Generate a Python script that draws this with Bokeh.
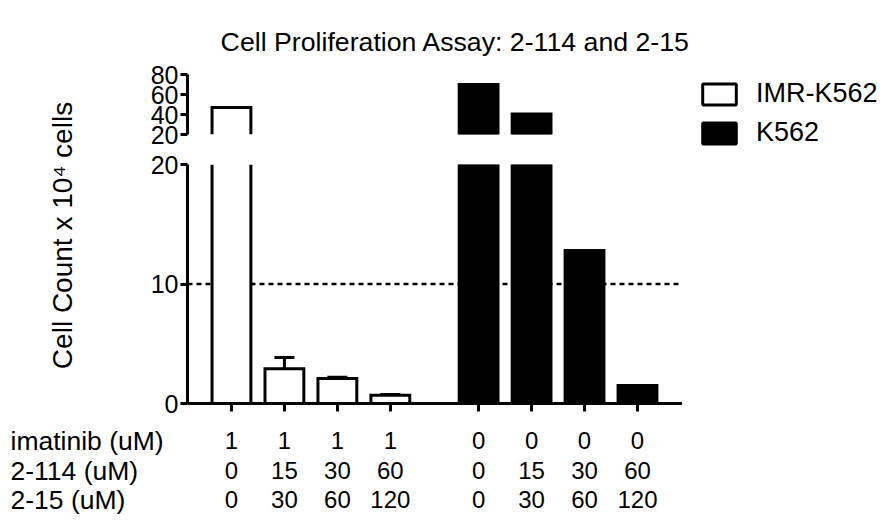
import math
from bokeh.plotting import figure
from bokeh.models import (Range1d, Span, Label, Legend, LegendItem, Whisker,
                          ColumnDataSource, TeeHead, FixedTicker, AllLabels)
from bokeh.layouts import column, row
from bokeh.embed import file_html
from bokeh.resources import INLINE
from bokeh.core.properties import value

# ---------------- data ----------------
series = ["IMR-K562", "K562"]
imatinib_uM = ["1", "1", "1", "1", "0", "0", "0", "0"]
cmpd_2_114_uM = ["0", "15", "30", "60", "0", "15", "30", "60"]
cmpd_2_15_uM = ["0", "30", "60", "120", "0", "30", "60", "120"]
imr_k562 = [47, 2.9, 2.1, 0.7]
imr_k562_err = [0, 0.95, 0.1, 0.05]
k562 = [70, 40.5, 12.8, 1.5]
threshold = 10
lower_ticks = [0, 10, 20]
upper_ticks = [20, 40, 60, 80]
row_labels = ["imatinib (uM)", "2-114 (uM)", "2-15 (uM)"]
title_text = "Cell Proliferation Assay: 2-114 and 2-15"
ylabel_text = "Cell Count x 10\u2074 cells"

# ---------------- layout constants ----------------
FONT = "Liberation Sans"
STEP = 3          # x units between bars in a group
GAP = 5           # x units between the two groups
x_imr = [i * STEP for i in range(4)]
x_k = [3 * STEP + GAP + i * STEP for i in range(4)]
x_all = x_imr + x_k
BAR_W = 2.2
HW = BAR_W / 2
X0, X1 = -2.49, 25.55
xr = Range1d(X0, X1)

W = 887
TITLE_H = 62
TOP_H = 87                            # 12 + 60 frame + 15
BOT_H = 274                           # 15 + 239 frame + 20
ROWS_H = 523 - TITLE_H - TOP_H - BOT_H
MID_H = TOP_H + BOT_H
FRAME_L, FRAME_R = 187, 682
LEFT_W = 137
BL = FRAME_L - LEFT_W
RIGHT_W = W - FRAME_R
MAIN_W = FRAME_R - LEFT_W
LW = 3

def blank(p):
    p.outline_line_color = None
    p.grid.visible = False
    p.background_fill_color = "white"
    p.border_fill_color = "white"
    return p

def style_yaxis(ax, ticks):
    ax.ticker = FixedTicker(ticks=ticks)
    ax.axis_line_width = LW
    ax.major_tick_line_width = LW
    ax.major_tick_out = 7
    ax.major_tick_in = 0
    ax.minor_tick_line_color = None
    ax.major_label_text_font = FONT
    ax.major_label_text_font_size = "25px"
    ax.major_label_text_color = "black"
    ax.major_label_standoff = 2
    ax.major_label_policy = AllLabels()
    ax.bounds = (ticks[0], ticks[-1])

def canvas_fig(w, h, xrange=None, yrange=None):
    return blank(figure(width=w, height=h,
                        x_range=xrange or Range1d(0, w), y_range=yrange or Range1d(0, h),
                        output_backend="svg", toolbar_location=None,
                        x_axis_location=None, y_axis_location=None,
                        min_border_left=0, min_border_right=0,
                        min_border_top=0, min_border_bottom=0))

brk = lower_ticks[-1]          # axis break value
imr_hi = [(x, v) for x, v in zip(x_imr, imr_k562) if v > brk]
imr_lo = [(x, v) for x, v in zip(x_imr, imr_k562) if v <= brk]
k_hi = [(x, v) for x, v in zip(x_k, k562) if v > brk]

# ---------------- title strip ----------------
p_title = canvas_fig(W, TITLE_H)
p_title.add_layout(Label(x=455, y=21, text=title_text, text_align="center",
                         text_baseline="alphabetic", text_font=FONT,
                         text_font_size="26.7px", text_color="black"))

# ---------------- upper segment (20-80) ----------------
p_top = blank(figure(width=MAIN_W, height=TOP_H, x_range=xr, y_range=Range1d(20, 80),
                     output_backend="svg", toolbar_location=None, x_axis_location=None,
                     min_border_left=BL, min_border_right=0, min_border_top=12,
                     min_border_bottom=15))
style_yaxis(p_top.yaxis[0], upper_ticks)
p_top.vbar(x=[a for a, _ in imr_hi], bottom=brk, top=[b for _, b in imr_hi],
           width=BAR_W, fill_color="white", line_color=None)
# open-bottom outline of the broken white bar
p_top.multi_line(xs=[[a - HW, a - HW, a + HW, a + HW] for a, _ in imr_hi],
                 ys=[[brk, b, b, brk] for _, b in imr_hi],
                 line_color="black", line_width=LW, line_join="miter")
p_top.vbar(x=[a for a, _ in k_hi], bottom=brk, top=[b for _, b in k_hi],
           width=BAR_W, fill_color="black", line_color="black", line_width=LW,
           line_join="miter")

# ---------------- lower segment (0-20) ----------------
p_bot = blank(figure(width=MAIN_W, height=BOT_H, x_range=xr, y_range=Range1d(0, 20),
                     output_backend="svg", toolbar_location=None,
                     min_border_left=BL, min_border_right=0, min_border_top=15,
                     min_border_bottom=20))
style_yaxis(p_bot.yaxis[0], lower_ticks)

p_bot.add_layout(Span(location=threshold, dimension="width", line_color="black",
                      line_width=2.5, line_dash="5 4", level="underlay"))
# white bars: fill, then outlines (closed for whole bars, sides only for the broken one)
p_bot.vbar(x=x_imr, bottom=0, top=[min(v, brk) for v in imr_k562], width=BAR_W,
           fill_color="white", line_color=None)
p_bot.vbar(x=[a for a, _ in imr_lo], bottom=0, top=[b for _, b in imr_lo], width=BAR_W,
           fill_color=None, line_color="black", line_width=LW, line_join="miter")
p_bot.multi_line(xs=[[a + s * HW, a + s * HW] for a, _ in imr_hi for s in (-1, 1)],
                 ys=[[0, brk] for _ in imr_hi for s in (-1, 1)],
                 line_color="black", line_width=LW)
p_bot.vbar(x=x_k, bottom=0, top=[min(v, brk) for v in k562], width=BAR_W,
           fill_color="black", line_color="black", line_width=LW, line_join="miter")

err_src = ColumnDataSource(dict(
    x=x_imr[1:],
    lower=imr_k562[1:],
    upper=[v + e for v, e in zip(imr_k562[1:], imr_k562_err[1:])]))
p_bot.add_layout(Whisker(source=err_src, base="x", lower="lower", upper="upper",
                         line_width=LW, line_color="black",
                         upper_head=TeeHead(size=20, line_width=LW, line_color="black"),
                         lower_head=None, level="glyph"))

xa = p_bot.xaxis[0]
xa.ticker = FixedTicker(ticks=x_all)
xa.axis_line_width = LW
xa.major_tick_line_width = LW
xa.major_tick_out = 8
xa.major_tick_in = 0
xa.minor_tick_line_color = None
xa.major_label_text_color = None
xa.major_label_text_font_size = "1px"
xa.major_label_standoff = 0

# ---------------- left strip: y-axis title ----------------
p_left = canvas_fig(LEFT_W, MID_H)
p_left.add_layout(Label(x=62, y=MID_H - (235 - TITLE_H), angle=math.pi / 2,
                        text=ylabel_text, text_align="center", text_baseline="middle",
                        text_font=FONT, text_font_size="28px", text_color="black"))

# ---------------- right strip: legend ----------------
# legend proxies carry the real series but are hidden; only their legend swatches show
p_right = canvas_fig(RIGHT_W, MID_H)
r_open = p_right.vbar(x=x_imr, top=imr_k562, width=BAR_W, fill_color="white",
                      line_color="black", line_width=LW, visible=False)
r_fill = p_right.vbar(x=x_k, top=k562, width=BAR_W, fill_color="black",
                      line_color="black", line_width=LW, visible=False)
p_right.add_layout(Legend(items=[LegendItem(label=series[0], renderers=[r_open]),
                                 LegendItem(label=series[1], renderers=[r_fill])],
                          location="top_left", margin=16, padding=0, spacing=8,
                          glyph_width=42, glyph_height=26, label_standoff=16,
                          label_height=26, border_line_color=None,
                          background_fill_alpha=0, label_text_font=FONT,
                          label_text_font_size="27px", label_text_color="black"))

# ---------------- bottom strip: condition table ----------------
k = (X1 - X0) / (FRAME_R - FRAME_L)
rows_xr = Range1d(X0 - FRAME_L * k, X0 + (W - FRAME_L) * k)
p_rows = canvas_fig(W, ROWS_H, xrange=rows_xr, yrange=Range1d(0, ROWS_H))
baselines = [83, 53, 24]
for yb, vals, lab in zip(baselines, [imatinib_uM, cmpd_2_114_uM, cmpd_2_15_uM], row_labels):
    p_rows.text(x=x_all, y=yb, text=vals, text_align="center", text_baseline="alphabetic",
                text_font=value(FONT), text_font_size="24px", text_color="black")
    p_rows.add_layout(Label(x=10, y=yb, x_units="screen", y_units="screen", text=lab,
                            text_align="left", text_baseline="alphabetic",
                            text_font=FONT, text_font_size="26.5px", text_color="black"))

layout = column(p_title,
                row(p_left, column(p_top, p_bot), p_right),
                p_rows)
open("out.html", "w").write(file_html(layout, INLINE))
